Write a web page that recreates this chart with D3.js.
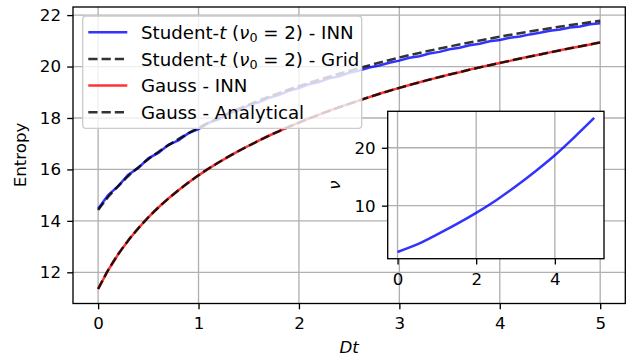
<!DOCTYPE html>
<html>
<head>
<meta charset="utf-8">
<script src="https://cdn.jsdelivr.net/npm/d3@7"></script>
<style>
  body { margin: 0; background: #fff; }
  svg { display: block; font-family: "DejaVu Sans", sans-serif; }
</style>
</head>
<body>
<div id="chart"></div>
<script>
// ---- data ----
var xTicks = [0, 1, 2, 3, 4, 5];
var yTicks = [12, 14, 16, 18, 20, 22];
var insetXTicks = [0, 2, 4];
var insetYTicks = [10, 20];

// INN curves, sampled every 0.1 in Dt
var tInn = [0, 0.1, 0.2, 0.3, 0.4, 0.5, 0.6, 0.7, 0.8, 0.9, 1.0,
            1.1, 1.2, 1.3, 1.4, 1.5, 1.6, 1.7, 1.8, 1.9, 2.0,
            2.1, 2.2, 2.3, 2.4, 2.5, 2.6, 2.7, 2.8, 2.9, 3.0,
            3.1, 3.2, 3.3, 3.4, 3.5, 3.6, 3.7, 3.8, 3.9, 4.0,
            4.1, 4.2, 4.3, 4.4, 4.5, 4.6, 4.7, 4.8, 4.9, 5.0];
var studentInn = [14.47, 15.00, 15.35, 15.79, 16.05, 16.43, 16.64, 16.96, 17.13, 17.41, 17.57,
                  17.81, 17.95, 18.17, 18.30, 18.49, 18.61, 18.78, 18.89, 19.06, 19.16,
                  19.31, 19.40, 19.54, 19.62, 19.76, 19.84, 19.96, 20.04, 20.15, 20.23,
                  20.34, 20.40, 20.51, 20.57, 20.67, 20.73, 20.83, 20.89, 20.98, 21.03,
                  21.12, 21.17, 21.25, 21.31, 21.39, 21.44, 21.52, 21.56, 21.64, 21.68];
var gaussInn = [11.35, 12.08, 12.70, 13.24, 13.71, 14.14, 14.52, 14.87, 15.19, 15.49, 15.77,
                16.03, 16.27, 16.50, 16.72, 16.92, 17.12, 17.31, 17.48, 17.66, 17.82,
                17.98, 18.13, 18.28, 18.42, 18.55, 18.68, 18.81, 18.94, 19.06, 19.17,
                19.28, 19.39, 19.49, 19.59, 19.69, 19.78, 19.88, 19.97, 20.05, 20.14,
                20.22, 20.31, 20.39, 20.47, 20.55, 20.63, 20.71, 20.78, 20.86, 20.94];

// reference curves (grid / analytical)
var tRef = [0, 0.1, 0.2, 0.3, 0.4, 0.5, 0.6, 0.8, 1, 1.25, 1.5, 1.75, 2, 2.5, 3, 3.5, 4, 4.5, 5];
var studentGrid = [14.42, 14.93, 15.35, 15.74, 16.08, 16.40, 16.68, 17.18, 17.62, 18.10,
                   18.52, 18.90, 19.24, 19.83, 20.35, 20.78, 21.16, 21.49, 21.78];
var gaussAnalytical = [11.35, 12.08, 12.70, 13.24, 13.71, 14.14, 14.52, 15.19, 15.77, 16.39,
                       16.92, 17.40, 17.82, 18.55, 19.17, 19.69, 20.14, 20.55, 20.94];

// inset: nu over Dt
var tNu = [0, 0.5, 1, 1.5, 2, 2.5, 3, 3.5, 4, 4.5, 5];
var nu = [2.0, 3.3, 5.0, 6.8, 8.75, 10.9, 13.3, 15.9, 18.7, 21.85, 25.15];

var legendItems = [
  {kind: 'student', name: 'INN', color: '#3333ff', dash: null},
  {kind: 'student', name: 'Grid', color: '#333333', dash: '9.25,4'},
  {kind: 'gauss', name: 'INN', color: '#ff3333', dash: null},
  {kind: 'gauss', name: 'Analytical', color: '#333333', dash: '9.25,4'}
];

// ---- drawing ----
var W = 626, H = 356;
var fs = 16.67;     // tick / axis label size
var lfs = 18.2;     // legend text size
var lw = 2.5;

var svg = d3.select('#chart').append('svg')
  .attr('width', W).attr('height', H);

svg.append('rect').attr('width', W).attr('height', H).attr('fill', 'white');

// main axes
var x = d3.scaleLinear().domain([-0.25, 5.25]).range([73, 625.3]);
var y = d3.scaleLinear().domain([10.787, 22.315]).range([303.5, 7]);

var main = svg.append('g');

// grid
main.selectAll('.gx').data(xTicks).enter().append('line')
  .attr('x1', d => x(d)).attr('x2', d => x(d))
  .attr('y1', y.range()[0]).attr('y2', y.range()[1])
  .attr('stroke', '#b0b0b0').attr('stroke-width', 1.33);
main.selectAll('.gy').data(yTicks).enter().append('line')
  .attr('x1', x.range()[0]).attr('x2', x.range()[1])
  .attr('y1', d => y(d)).attr('y2', d => y(d))
  .attr('stroke', '#b0b0b0').attr('stroke-width', 1.33);

var lineInn = d3.line()
  .x(function (d) { return x(d[0]); })
  .y(function (d) { return y(d[1]); });
var lineRef = d3.line()
  .x(function (d) { return x(d[0]); })
  .y(function (d) { return y(d[1]); })
  .curve(d3.curveMonotoneX);

function zip(a, b) { return a.map(function (v, i) { return [v, b[i]]; }); }

main.append('path').attr('d', lineInn(zip(tInn, studentInn)))
  .attr('fill', 'none').attr('stroke', '#0000ff').attr('stroke-opacity', 0.8)
  .attr('stroke-width', lw);
main.append('path').attr('d', lineRef(zip(tRef, studentGrid)))
  .attr('fill', 'none').attr('stroke', '#000').attr('stroke-opacity', 0.8)
  .attr('stroke-width', lw).attr('stroke-dasharray', '9.25,4');
main.append('path').attr('d', lineInn(zip(tInn, gaussInn)))
  .attr('fill', 'none').attr('stroke', '#ff0000').attr('stroke-opacity', 0.8)
  .attr('stroke-width', lw);
main.append('path').attr('d', lineRef(zip(tRef, gaussAnalytical)))
  .attr('fill', 'none').attr('stroke', '#000').attr('stroke-opacity', 0.8)
  .attr('stroke-width', lw).attr('stroke-dasharray', '9.25,4');

// axes
var xAxis = main.append('g').attr('transform', 'translate(0,' + y.range()[0] + ')')
  .call(d3.axisBottom(x).tickValues(xTicks).tickSize(5.8).tickPadding(8).tickFormat(d3.format('d')));
var yAxis = main.append('g').attr('transform', 'translate(' + x.range()[0] + ',0)')
  .call(d3.axisLeft(y).tickValues(yTicks).tickSize(5.8).tickPadding(6.2).tickFormat(d3.format('d')));
[xAxis, yAxis].forEach(function (a) {
  a.select('.domain').remove();
  a.selectAll('line').attr('stroke', '#000').attr('stroke-width', 1.33);
  a.selectAll('text').attr('font-size', fs).attr('fill', '#000')
    .attr('font-family', '"DejaVu Sans", sans-serif');
});

main.append('rect')
  .attr('x', x.range()[0]).attr('y', y.range()[1])
  .attr('width', x.range()[1] - x.range()[0]).attr('height', y.range()[0] - y.range()[1])
  .attr('fill', 'none').attr('stroke', '#000').attr('stroke-width', 1.33);

// labels
svg.append('text').attr('x', (x.range()[0] + x.range()[1]) / 2).attr('y', 352.5)
  .attr('text-anchor', 'middle').attr('font-size', fs).attr('font-style', 'italic')
  .text('Dt');
svg.append('text').attr('transform', 'translate(25.5,155) rotate(-90)')
  .attr('text-anchor', 'middle').attr('font-size', fs)
  .text('Entropy');

// legend
var leg = svg.append('g');
leg.append('rect').attr('x', 82.7).attr('y', 16).attr('width', 279).attr('height', 112.3)
  .attr('rx', 3.3).attr('fill', 'white').attr('fill-opacity', 0.8)
  .attr('stroke', '#cccccc').attr('stroke-width', 1.33);
legendItems.forEach(function (it, i) {
  var cy = 32.3 + i * 26.65;
  leg.append('line').attr('x1', 88.3).attr('x2', 127.3).attr('y1', cy).attr('y2', cy)
    .attr('stroke', it.color).attr('stroke-width', lw)
    .attr('stroke-dasharray', it.dash);
  var t = leg.append('text').attr('x', 141).attr('y', cy + 6.6).attr('font-size', lfs);
  if (it.kind === 'student') {
    t.append('tspan').text('Student-');
    t.append('tspan').attr('font-style', 'italic').text('t');
    t.append('tspan').text(' (');
    t.append('tspan').attr('font-style', 'italic').text('ν');
    t.append('tspan').attr('font-size', lfs * 0.7).attr('dy', 3.5).text('0');
    t.append('tspan').attr('dy', -3.5).text(' = 2) - ' + it.name);
  } else {
    t.text('Gauss - ' + it.name);
  }
});

// inset
var ix = d3.scaleLinear().domain([-0.25, 5.25]).range([387.7, 604]);
var iy = d3.scaleLinear().domain([0.84, 26.3]).range([258.7, 111.3]);
var inset = svg.append('g');
inset.append('rect').attr('x', ix.range()[0]).attr('y', iy.range()[1])
  .attr('width', ix.range()[1] - ix.range()[0]).attr('height', iy.range()[0] - iy.range()[1])
  .attr('fill', 'white');
inset.selectAll('.igx').data(insetXTicks).enter().append('line')
  .attr('x1', d => ix(d)).attr('x2', d => ix(d))
  .attr('y1', iy.range()[0]).attr('y2', iy.range()[1])
  .attr('stroke', '#b0b0b0').attr('stroke-width', 1.33);
inset.selectAll('.igy').data(insetYTicks).enter().append('line')
  .attr('x1', ix.range()[0]).attr('x2', ix.range()[1])
  .attr('y1', d => iy(d)).attr('y2', d => iy(d))
  .attr('stroke', '#b0b0b0').attr('stroke-width', 1.33);

var nuLine = d3.line()
  .x(function (d) { return ix(d[0]); })
  .y(function (d) { return iy(d[1]); })
  .curve(d3.curveMonotoneX);
inset.append('path').attr('d', nuLine(zip(tNu, nu)))
  .attr('fill', 'none').attr('stroke', '#0000ff').attr('stroke-opacity', 0.8)
  .attr('stroke-width', lw);

var ixAxis = inset.append('g').attr('transform', 'translate(0,' + iy.range()[0] + ')')
  .call(d3.axisBottom(ix).tickValues(insetXTicks).tickSize(5.8).tickPadding(8.5).tickFormat(d3.format('d')));
var iyAxis = inset.append('g').attr('transform', 'translate(' + ix.range()[0] + ',0)')
  .call(d3.axisLeft(iy).tickValues(insetYTicks).tickSize(5.8).tickPadding(6.2).tickFormat(d3.format('d')));
[ixAxis, iyAxis].forEach(function (a) {
  a.select('.domain').remove();
  a.selectAll('line').attr('stroke', '#000').attr('stroke-width', 1.33);
  a.selectAll('text').attr('font-size', fs).attr('fill', '#000')
    .attr('font-family', '"DejaVu Sans", sans-serif');
});
inset.append('rect').attr('x', ix.range()[0]).attr('y', iy.range()[1])
  .attr('width', ix.range()[1] - ix.range()[0]).attr('height', iy.range()[0] - iy.range()[1])
  .attr('fill', 'none').attr('stroke', '#000').attr('stroke-width', 1.33);
svg.append('text').attr('transform', 'translate(340,185) rotate(-90)')
  .attr('text-anchor', 'middle').attr('font-size', fs).attr('font-style', 'italic')
  .text('ν');
</script>
</body>
</html>
